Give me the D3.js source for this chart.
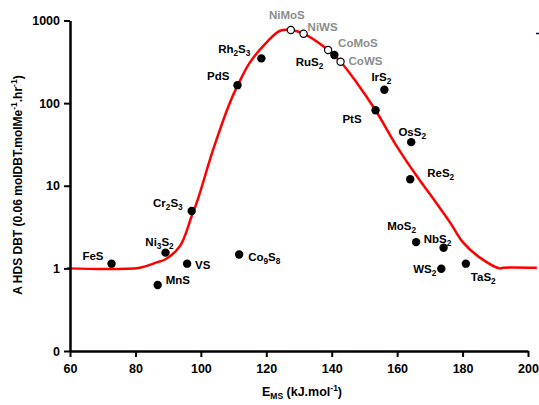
<!DOCTYPE html>
<html>
<head>
<meta charset="utf-8">
<script src="https://cdn.jsdelivr.net/npm/d3@7"></script>
<style>
  body { margin: 0; background: #fff; }
  text { font-family: "Liberation Sans", Arial, sans-serif; font-weight: bold; }
</style>
</head>
<body>
<svg width="539" height="405"></svg>
<script>
// sulfide names, E_MS (kJ/mol) and HDS activity
var names = ["FeS", "Ni3S2", "VS", "MnS", "Cr2S3", "Co9S8", "PdS", "Rh2S3",
             "NiMoS", "NiWS", "CoMoS", "CoWS", "RuS2", "IrS2", "PtS", "OsS2",
             "ReS2", "MoS2", "NbS2", "WS2", "TaS2"];
var eMS = [72.7, 89.2, 95.8, 86.8, 97.2, 111.7, 111.2, 118.5,
           127.5, 131.4, 138.9, 142.7, 140.8, 156.1, 153.4, 164.3,
           164.0, 165.8, 174.2, 173.5, 181.0];
var activity = [1.14, 1.55, 1.14, 0.63, 4.95, 1.47, 165, 348,
                767, 692, 439, 317, 382, 145, 82, 33.7,
                12, 2.08, 1.78, 0.99, 1.14];
// promoted catalysts drawn as open circles
var promoted = ["NiMoS", "NiWS", "CoMoS", "CoWS"];

// volcano curve
var curveX = [59.1, 81.4, 86.5, 89.2, 93.6, 97.2, 99.1, 103.8, 108.9, 111.3, 115.0,
              120.1, 124.2, 127.5, 131.4, 138.9, 142.7, 147.6, 153.4, 159.9, 166.0,
              171.1, 176.2, 180.2, 185.3, 191.4, 192.4, 202.7];
var curveY = [1.0, 1.02, 1.18, 1.29, 1.86, 4.3, 6.9, 27.7, 102, 165, 311,
              544, 752, 767, 692, 439, 317, 178, 82, 30, 13.1,
              6.9, 3.58, 2.05, 1.35, 1.0, 1.02, 1.02];

var xTicks = [60, 80, 100, 120, 140, 160, 180, 200];
var yTicks = [0.1, 1, 10, 100, 1000];
var yTickLabels = ["0", "1", "10", "100", "1000"];

// label placement relative to each dot: [anchor, dx, dy]
var labelPos = {
  "FeS": ["end", -8, -4], "Ni3S2": ["middle", -6, -7], "VS": ["start", 8, 5],
  "MnS": ["start", 8, -1], "Cr2S3": ["end", -9, -4], "Co9S8": ["start", 9, 6],
  "PdS": ["end", -8, -5], "Rh2S3": ["end", -11, -5], "NiMoS": ["middle", -4, -11],
  "NiWS": ["start", 4, -3], "CoMoS": ["start", 10, -3], "CoWS": ["start", 8, 3],
  "RuS2": ["end", -11, 11], "IrS2": ["middle", -3, -9], "PtS": ["end", -14, 13],
  "OsS2": ["middle", 1, -6], "ReS2": ["start", 17, -2], "MoS2": ["end", 0, -12],
  "NbS2": ["middle", -6, -5], "WS2": ["end", -5, 4], "TaS2": ["start", 5, 17]
};

var svg = d3.select("svg");

var x = d3.scaleLinear().domain([60, 200]).range([70, 528]);
var y = d3.scaleLog().domain([0.1, 1000]).range([351, 20.5]);

// red curve
var line = d3.line()
  .x(function(d) { return x(d[0]); })
  .y(function(d) { return y(d[1]); })
  .curve(d3.curveCatmullRom);

svg.append("path")
  .datum(d3.zip(curveX, curveY))
  .attr("d", line)
  .style("fill", "none")
  .style("stroke", "#ff0000")
  .style("stroke-width", "2.5px");

// axes
var xAxis = svg.append("g")
  .attr("transform", "translate(0," + 351 + ")")
  .call(d3.axisBottom(x).tickValues(xTicks).tickSize(6).tickPadding(7).tickSizeOuter(0));

var yAxis = svg.append("g")
  .attr("transform", "translate(" + 70 + ",0)")
  .call(d3.axisLeft(y).tickValues(yTicks).tickSize(6).tickPadding(4).tickSizeOuter(0)
    .tickFormat(function(d, i) { return yTickLabels[i]; }));

[xAxis, yAxis].forEach(function(g) {
  g.select(".domain").style("stroke", "#000").style("stroke-width", "2.5px");
  g.selectAll(".tick line").style("stroke", "#000").style("stroke-width", "2px");
  g.selectAll(".tick text").style("font-size", "12.5px").style("font-weight", "bold")
    .style("font-family", "'Liberation Sans', Arial, sans-serif").style("fill", "#000");
});

// digits in formulas become subscripts
function formula(sel, s, size) {
  var shift = 0;
  s.split(/(\d+)/).forEach(function(part, i) {
    if (!part) return;
    if (i % 2 === 1) {
      sel.append("tspan").attr("dy", 3).style("font-size", (size * 0.72) + "px").text(part);
      shift = -3;
    } else {
      sel.append("tspan").attr("dy", shift).text(part);
      shift = 0;
    }
  });
}

var pts = d3.zip(names, eMS, activity);

// dots
svg.selectAll("circle.pt")
  .data(pts)
  .enter().append("circle")
  .attr("class", "pt")
  .attr("cx", function(d) { return x(d[1]); })
  .attr("cy", function(d) { return y(d[2]); })
  .attr("r", function(d) { return promoted.indexOf(d[0]) >= 0 ? 3.6 : 4.2; })
  .style("fill", function(d) { return promoted.indexOf(d[0]) >= 0 ? "#fff" : "#000"; })
  .style("stroke", "#000")
  .style("stroke-width", function(d) { return promoted.indexOf(d[0]) >= 0 ? 1.2 : 0; });

// labels
pts.forEach(function(d) {
  var p = labelPos[d[0]];
  var t = svg.append("text")
    .attr("x", x(d[1]) + p[1])
    .attr("y", y(d[2]) + p[2])
    .attr("text-anchor", p[0])
    .style("font-size", "11.5px")
    .style("fill", promoted.indexOf(d[0]) >= 0 ? "#8c8c8c" : "#000");
  formula(t, d[0], 11.5);
});

// axis titles
var xt = svg.append("text")
  .attr("x", 302).attr("y", 396)
  .attr("text-anchor", "middle")
  .style("font-size", "12.5px");
xt.append("tspan").text("E");
xt.append("tspan").attr("dy", 3).style("font-size", "8.5px").text("MS");
xt.append("tspan").attr("dy", -3).text(" (kJ.mol");
xt.append("tspan").attr("dy", -5).style("font-size", "8.5px").text("-1");
xt.append("tspan").attr("dy", 5).text(")");

var yt = svg.append("text")
  .attr("transform", "translate(22,185) rotate(-90)")
  .attr("text-anchor", "middle")
  .style("font-size", "12px");
yt.append("tspan").text("A HDS DBT (0.06 molDBT.molMe");
yt.append("tspan").attr("dy", -5).style("font-size", "8.5px").text("-1");
yt.append("tspan").attr("dy", 5).text(".hr");
yt.append("tspan").attr("dy", -5).style("font-size", "8.5px").text("-1");
yt.append("tspan").attr("dy", 5).text(")");

// small blue mark at the right edge
svg.append("line")
  .attr("x1", 536).attr("x2", 539).attr("y1", 33.5).attr("y2", 33.5)
  .style("stroke", "#000080").style("stroke-width", "1.5px");
</script>
</body>
</html>
